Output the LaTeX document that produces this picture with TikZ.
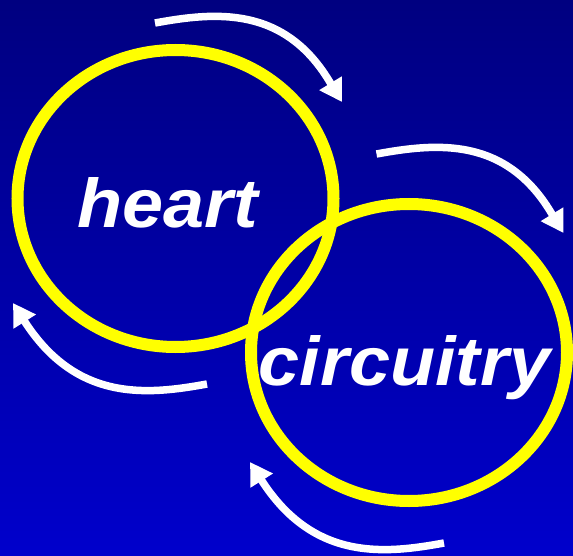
\documentclass[tikz,border=0pt]{standalone}
\usepackage{fontspec}
\setmainfont{Liberation Sans}
\usetikzlibrary{shapes.geometric,arrows.meta}
\definecolor{bgtop}{RGB}{0,0,128}
\definecolor{bgbot}{RGB}{0,0,204}
\definecolor{ringyellow}{RGB}{255,255,0}
\newcommand{\widetext}[1]{\scalebox{1.07}[1]{#1}}
\tikzset{
  ring/.style={ellipse, draw=ringyellow, line width=12pt, inner sep=0pt, outer sep=0pt,
    minimum width=316pt, minimum height=297pt},
  word/.style={text=white, inner sep=0pt, anchor=base,
    font=\fontsize{69}{80}\selectfont\bfseries\itshape},
  flow/.style={draw=white, line width=7.5pt, line cap=butt,
    -{Triangle[length=22pt,width=25pt]}}
}
\begin{document}
\begin{tikzpicture}[x=1pt,y=-1pt]
  \shade[top color=bgtop, bottom color=bgbot] (0,0) rectangle (573,556);
  \useasboundingbox (0,0) rectangle (573,556);
  \node[ring] (ring1) at (175.5,198.5) {};
  \node[ring] (ring2) at (409,352.5) {};
  \node[word] (heart) at (167.5,228) {\widetext{heart}};
  \node[word] (circ) at (404.5,385) {\widetext{circuitry}};
  % top-left arrow
  \draw[flow] (155,23) .. controls (215,12) and (285,5) .. (331,84) -- (342,102);
  % top-right arrow
  \draw[flow] (376.5,154) .. controls (436.5,143) and (506.5,136) .. (552.5,215) -- (563.5,233);
  % left arrow
  \draw[flow] (207,384) .. controls (147,395) and (77,402) .. (25,322) -- (13,303);
  % bottom arrow
  \draw[flow] (444,543) .. controls (384,554) and (314,561) .. (262,481) -- (250,462);
\end{tikzpicture}
\end{document}
